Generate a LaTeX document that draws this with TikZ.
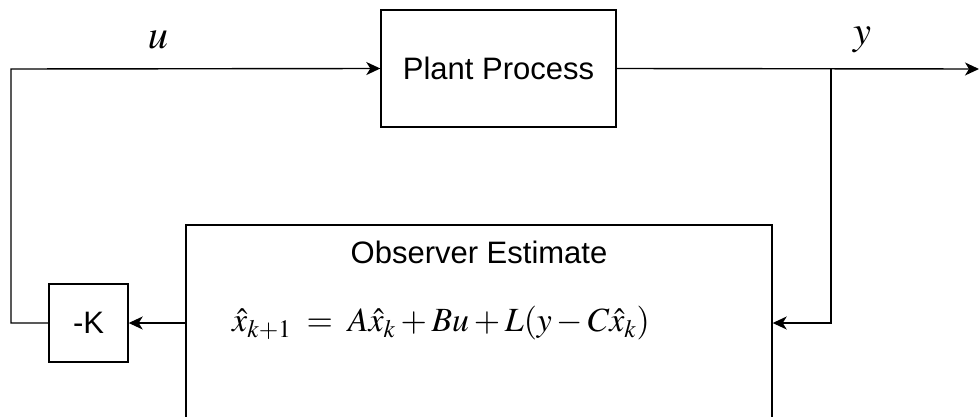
\documentclass[tikz,border=0pt]{standalone}
\usepackage{amsmath}
\usepackage{mathptmx}
\usepackage{graphicx}
\usepackage{fontspec}
\setmainfont{Liberation Sans}
\usetikzlibrary{arrows.meta}

\tikzset{
blk/.style={draw,line width=1.4pt,font=\fontsize{31}{37}\selectfont,inner sep=0pt},
sig/.style={line width=1.4pt,-{Stealth[length=14pt,width=13pt,inset=4pt]}},
}

\begin{document}
\begin{tikzpicture}[x=1pt,y=-1pt]
\useasboundingbox (0,0) rectangle (979,417);
\node[blk,minimum width=235pt,minimum height=117pt] (plant) at (498.5,68.5){Plant Process};
\node[blk,minimum width=586pt,minimum height=220pt] (obs) at (479,335){};
\node[blk,minimum width=79pt,minimum height=78pt] (gain) at (88.5,323){-K};
\node[font=\fontsize{31}{37}\selectfont] (obstitle) at (479,252){Observer Estimate};
\node[font=\fontsize{28}{34}\selectfont] (obseq) at (441,323)
  {\scalebox{1.21}{\(\hat{x}_{k+1} \;=\; A\hat{x}_k + Bu + L(y - C\hat{x}_k)\)}};
\coordinate (branch) at (831,69);
\coordinate (yout) at (979,69);
\draw[sig] (gain.west) -- (11,323) -- (11,69) -- (plant.west);
\draw[sig] (plant.east) -- (yout);
\draw[sig] (branch) -- (831,323) -- (obs.east |- 831,323);
\draw[sig] (obs.west |- gain.east) -- (gain.east);
\node[font=\fontsize{30}{36}\selectfont] (ulabel) at (158,40){\scalebox{1.35}{\(\boldsymbol{u}\)}};
\node[font=\fontsize{30}{36}\selectfont] (ylabel) at (862,40){\scalebox{1.35}{\(\boldsymbol{y}\)}};
\end{tikzpicture}
\end{document}
